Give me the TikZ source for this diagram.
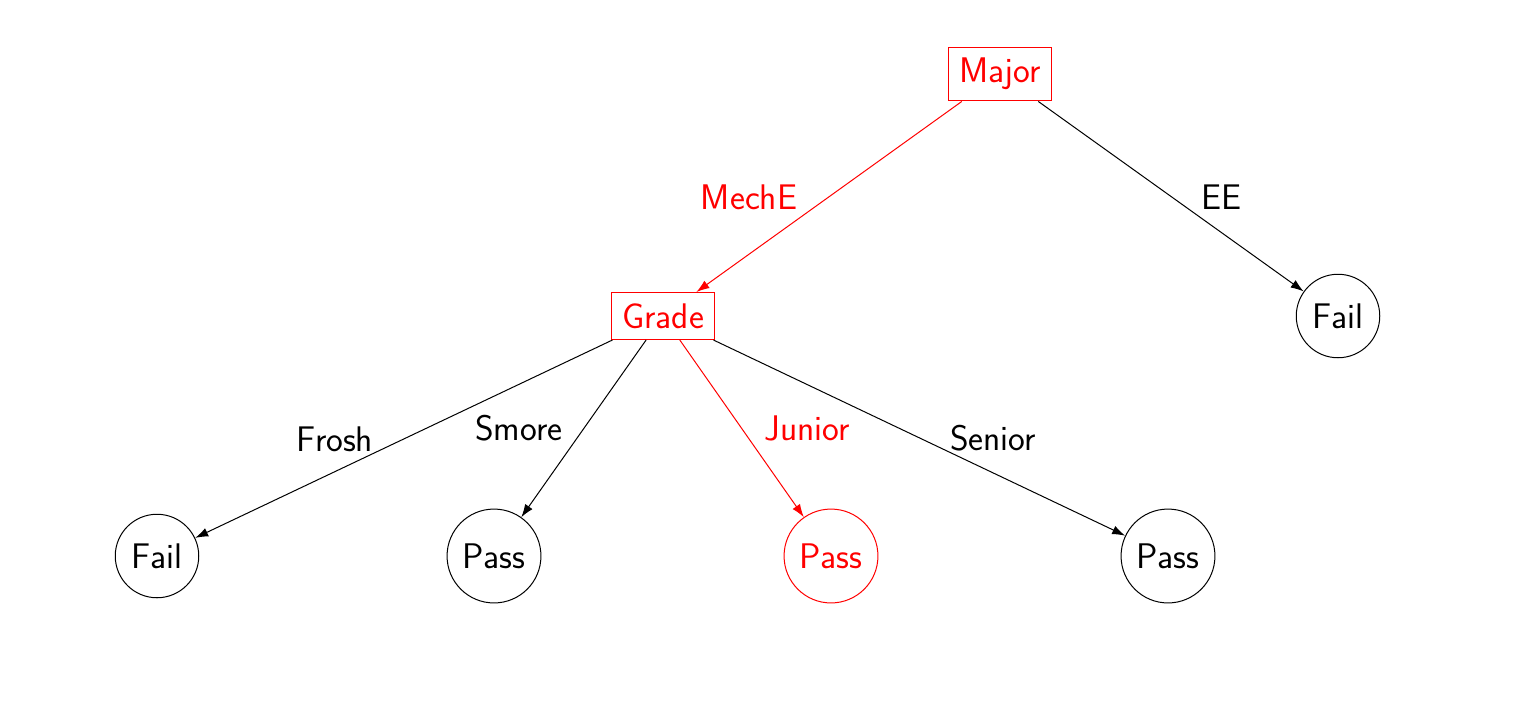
\documentclass[tikz,border=0pt]{standalone}
\usetikzlibrary{arrows.meta}
\begin{document}
\begin{tikzpicture}[x=0.5pt,y=-0.5pt,
  every node/.style={font=\sffamily\fontsize{17.8}{20}\selectfont},
  dec/.style={draw, rectangle, inner sep=5.5pt, line width=0.5pt},
  leaf/.style={draw, circle, inner sep=5.1pt, line width=0.5pt},
  lbl/.style={inner sep=0pt},
  conn/.style={-{Latex[length=6.5pt,width=4.5pt]}, line width=0.5pt},
  hl/.style={red}]
\useasboundingbox (0,0) rectangle (1520,713);
\node[dec,hl] (major) at (1000,74) {Major};
\node[dec,hl] (grade) at (663,316) {Grade};
\node[leaf] (failR) at (1338,316) {Fail};
\node[leaf] (failL) at (157,556) {Fail};
\node[leaf] (pass1) at (494,556) {Pass};
\node[leaf,hl] (pass2) at (831,556) {Pass};
\node[leaf] (pass3) at (1168,556) {Pass};

\draw[conn,hl] (major) -- (grade);
\draw[conn] (major) -- (failR);
\draw[conn] (grade) -- (failL);
\draw[conn] (grade) -- (pass1);
\draw[conn,hl] (grade) -- (pass2);
\draw[conn] (grade) -- (pass3);

\node[lbl,hl] (lmeche) at (749,197) {MechE};
\node[lbl] (lee) at (1221,197) {EE};
\node[lbl] (lfrosh) at (335,439) {Frosh};
\node[lbl] (lsmore) at (519,428) {Smore};
\node[lbl,hl] (ljunior) at (807,428) {Junior};
\node[lbl] (lsenior) at (993,438) {Senior};
\end{tikzpicture}
\end{document}
